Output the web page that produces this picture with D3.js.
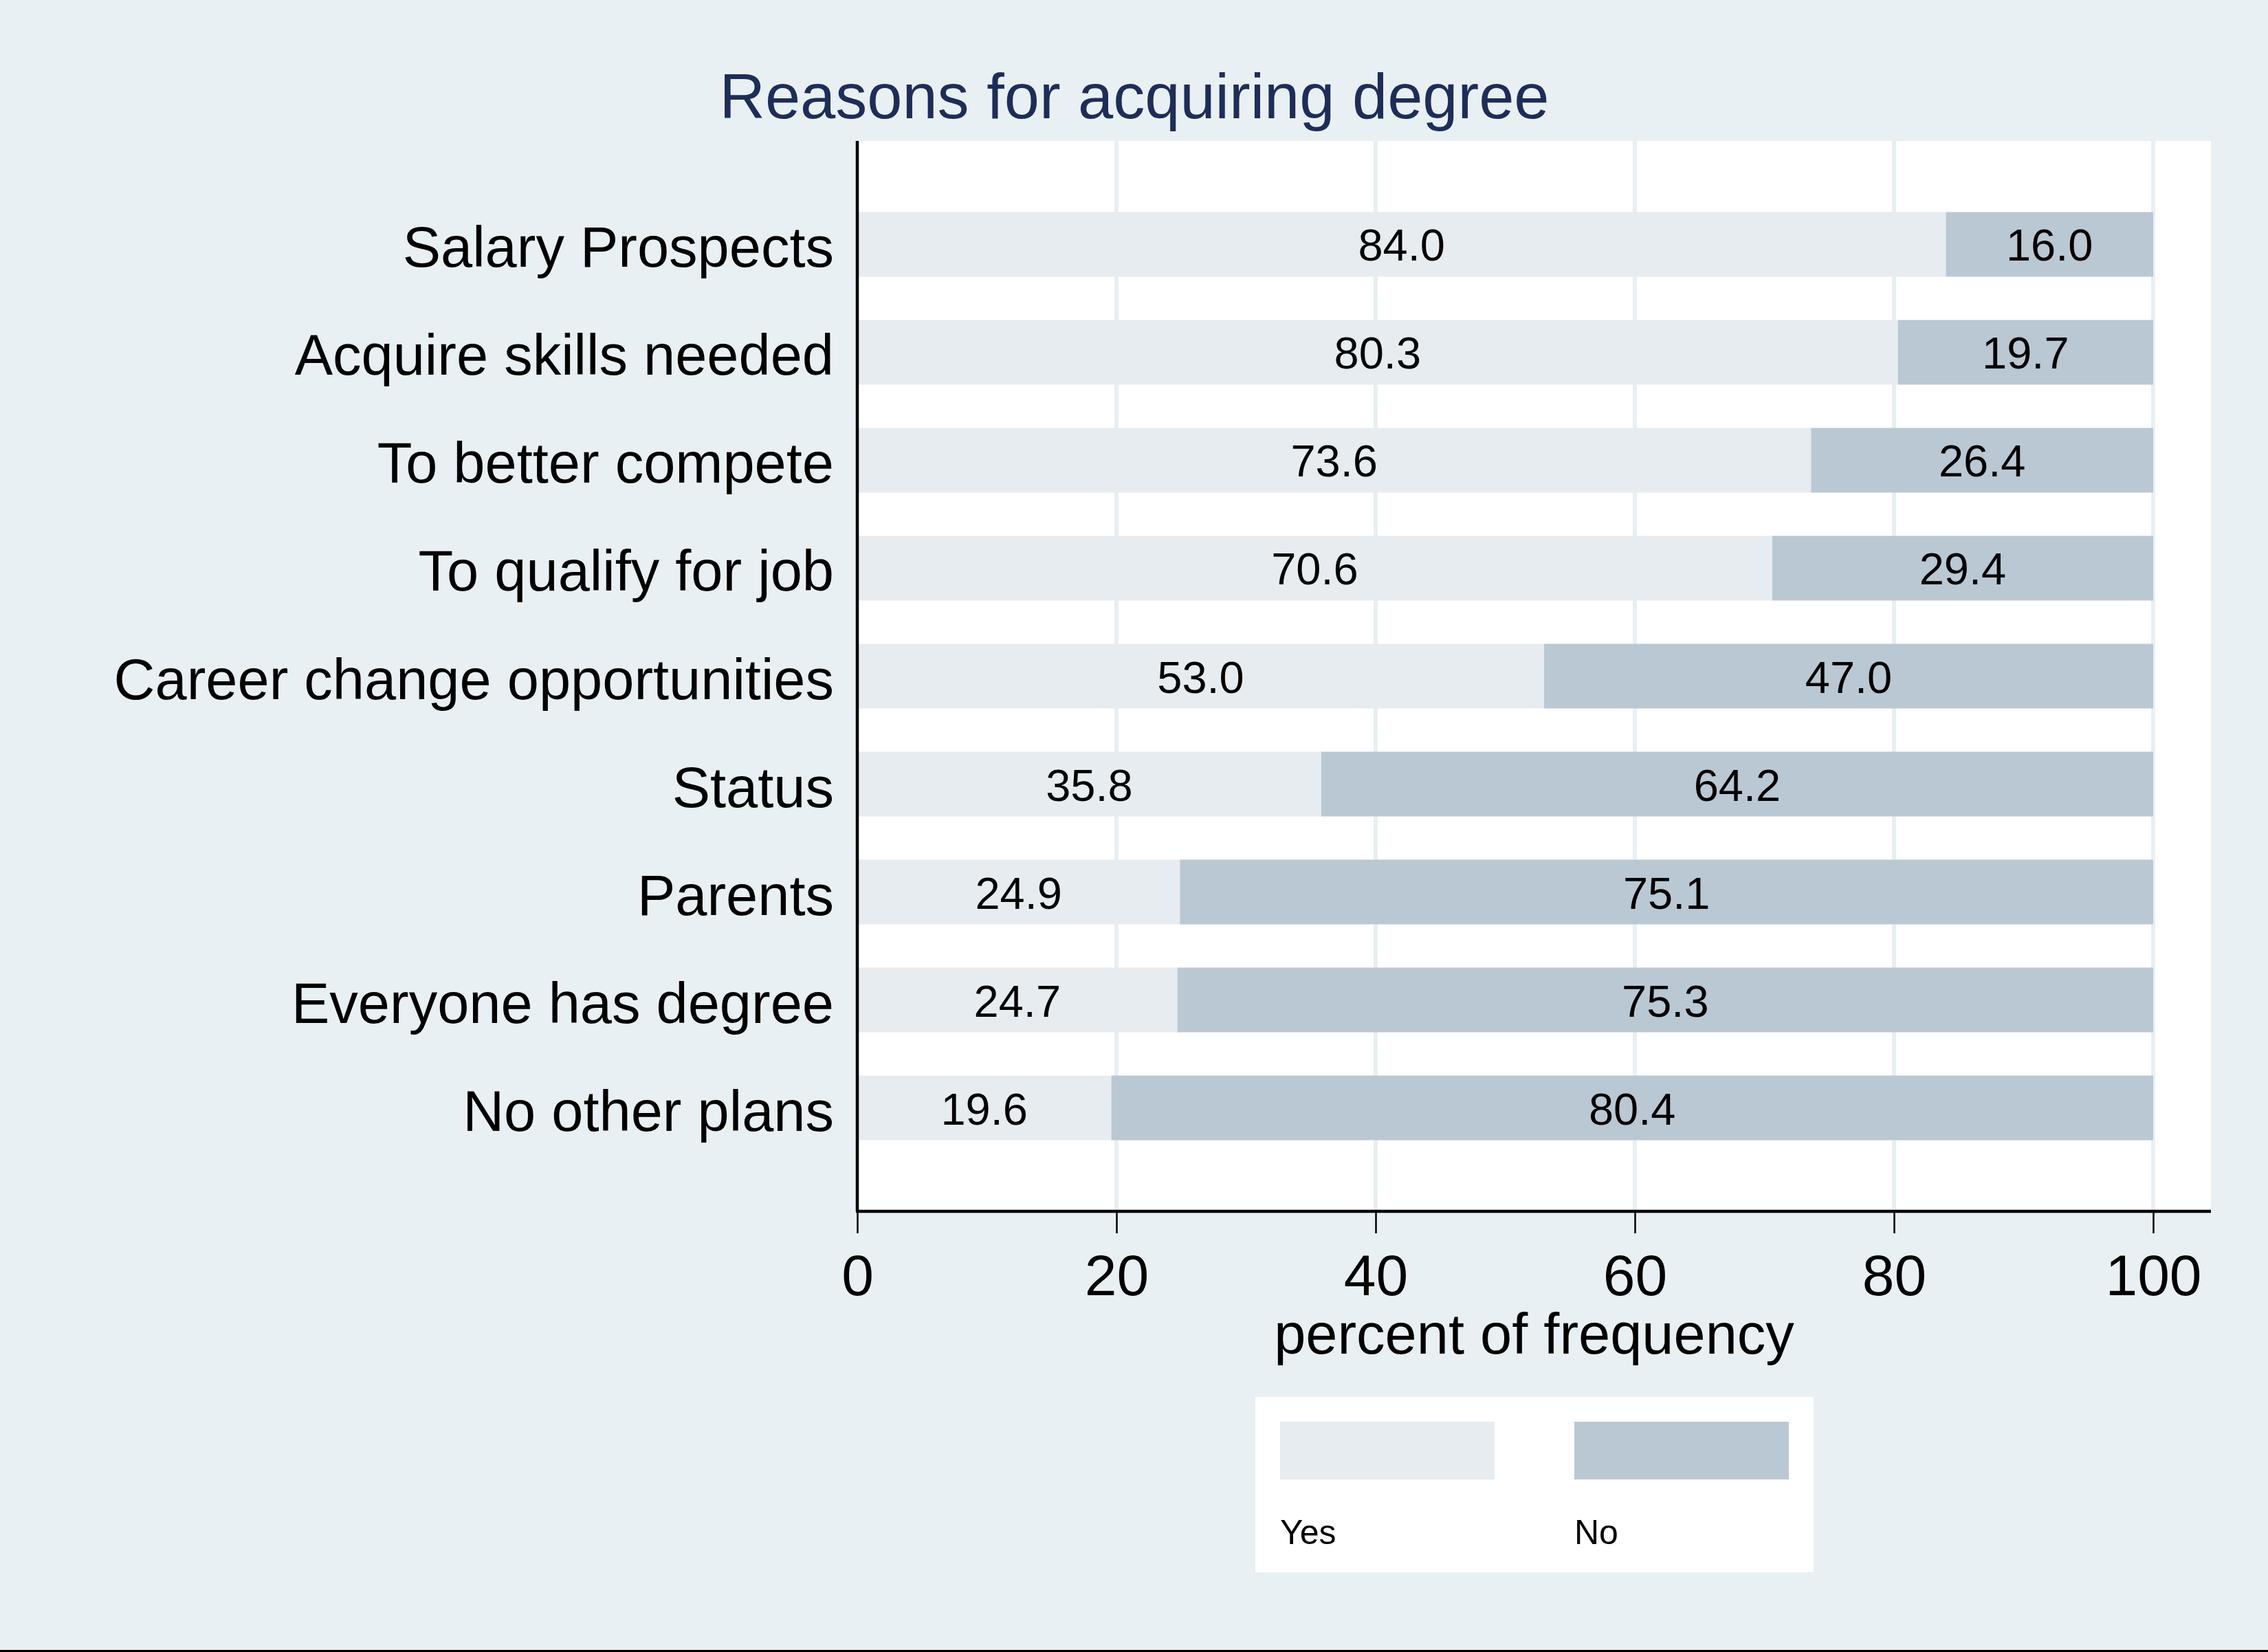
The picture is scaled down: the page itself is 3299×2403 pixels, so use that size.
<!DOCTYPE html>
<html>
<head>
<meta charset="utf-8">
<script src="https://cdn.jsdelivr.net/npm/d3@7"></script>
<style>
html,body{margin:0;padding:0;background:#e8f0f3;}
svg{display:block;}
text{font-family:"Liberation Sans",Arial,Helvetica,sans-serif;}
</style>
</head>
<body>
<svg id="chart" width="3299" height="2403"></svg>
<script>
const categories = ["Salary Prospects","Acquire skills needed","To better compete","To qualify for job","Career change opportunities","Status","Parents","Everyone has degree","No other plans"];
const yesValues = [84.0,80.3,73.6,70.6,53.0,35.8,24.9,24.7,19.6];
const noValues  = [16.0,19.7,26.4,29.4,47.0,64.2,75.1,75.3,80.4];
const seriesNames = ["Yes","No"];
const xTicks = [0,20,40,60,80,100];
const titleText = "Reasons for acquiring degree";
const xTitle = "percent of frequency";

const W = 3299, H = 2403;
const plot = {left:1247, right:3216, top:205, bottom:1762};
const colors = {Yes:"#e6ecf0", No:"#bac8d3"};

const svg = d3.select("#chart");
svg.append("rect").attr("x",0).attr("y",0).attr("width",W).attr("height",H).attr("fill","#e8f0f3");

// plot area
svg.append("rect").attr("x",plot.left).attr("y",plot.top)
  .attr("width",plot.right-plot.left).attr("height",plot.bottom-plot.top).attr("fill","#ffffff");

const x = d3.scaleLinear().domain([0,100]).range([plot.left, plot.left + 1885]);
const y = d3.scaleBand().domain(categories).range([plot.top, plot.bottom]).paddingInner(0.401).paddingOuter(0.659);

// gridlines
svg.append("g").selectAll("line").data(xTicks.filter(d=>d>0)).join("line")
  .attr("x1",d=>x(d)).attr("x2",d=>x(d)).attr("y1",plot.top).attr("y2",plot.bottom)
  .attr("stroke","#e8eff3").attr("stroke-width",6);

const rows = categories.map((c,i)=>({cat:c, Yes:yesValues[i], No:noValues[i]}));
const stacked = d3.stack().keys(seriesNames)(rows);

const gBars = svg.append("g");
stacked.forEach(layer=>{
  gBars.append("g").selectAll("rect").data(layer).join("rect")
    .attr("x",d=>x(d[0])).attr("width",d=>x(d[1])-x(d[0]))
    .attr("y",d=>y(d.data.cat)).attr("height",y.bandwidth())
    .attr("fill",colors[layer.key]);
  gBars.append("g").selectAll("text").data(layer).join("text")
    .attr("x",d=>(x(d[0])+x(d[1]))/2)
    .attr("y",d=>y(d.data.cat)+y.bandwidth()/2+24)
    .attr("text-anchor","middle").attr("font-size",65).attr("fill","#000")
    .text(d=>(d[1]-d[0]).toFixed(1));
});

// category labels
svg.append("g").selectAll("text").data(categories).join("text")
  .attr("x",1213).attr("y",d=>y(d)+y.bandwidth()/2+33)
  .attr("text-anchor","end").attr("font-size",83).attr("fill","#000").text(d=>d);

// x axis
const xAxis = d3.axisBottom(x).tickValues(xTicks).tickSize(32).tickPadding(30).tickFormat(d3.format("d"));
const gx = svg.append("g").attr("transform",`translate(0,${plot.bottom})`).call(xAxis);
gx.select(".domain").remove();
gx.selectAll(".tick line").attr("stroke","#000").attr("stroke-width",2.5);
gx.selectAll(".tick text").attr("font-size",84).attr("fill","#000")
  .attr("font-family","'Liberation Sans',Arial,sans-serif").attr("dy","0.71em");
svg.append("line").attr("x1",plot.left-2).attr("x2",plot.right).attr("y1",plot.bottom).attr("y2",plot.bottom)
  .attr("stroke","#000").attr("stroke-width",4.5);
// y axis line
svg.append("line").attr("x1",plot.left).attr("x2",plot.left).attr("y1",plot.top).attr("y2",plot.bottom)
  .attr("stroke","#000").attr("stroke-width",4.5);

// axis title
svg.append("text").attr("x",(plot.left+plot.right)/2).attr("y",1969)
  .attr("text-anchor","middle").attr("font-size",83).attr("fill","#000").text(xTitle);

// title
svg.append("text").attr("x",1650).attr("y",172).attr("text-anchor","middle")
  .attr("font-size",92).attr("fill","#1e2d58").text(titleText);

// legend
const lg = svg.append("g");
lg.append("rect").attr("x",1826).attr("y",2032).attr("width",812).attr("height",255).attr("fill","#ffffff");
const legX = d3.scalePoint().domain(seriesNames).range([1862,2290]);
lg.selectAll("rect.sw").data(seriesNames).join("rect").attr("class","sw")
  .attr("x",d=>legX(d)).attr("y",2068).attr("width",312).attr("height",84).attr("fill",d=>colors[d]);
lg.selectAll("text").data(seriesNames).join("text")
  .attr("x",d=>legX(d)).attr("y",2246).attr("font-size",50).attr("fill","#000").text(d=>d);

// bottom border line
svg.append("rect").attr("x",0).attr("y",2400).attr("width",W).attr("height",3).attr("fill","#000");
</script>
</body>
</html>
